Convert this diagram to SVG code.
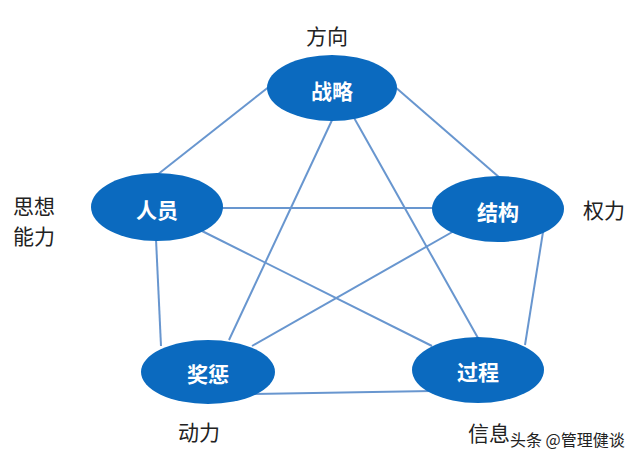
<svg xmlns="http://www.w3.org/2000/svg" width="640" height="459" viewBox="0 0 640 459">
<style>
.edge{stroke:#6896cf;stroke-width:2;fill:none}
.node ellipse{fill:#0b6abf}
.node text{fill:#fff;font-family:"Noto Sans CJK SC","Noto Sans",sans-serif;font-size:21px;font-weight:bold;text-anchor:middle;dominant-baseline:central}
.lbl{fill:#222;font-family:"Noto Sans CJK SC","Noto Sans",sans-serif;font-size:21px;text-anchor:middle;dominant-baseline:central}
.wm{fill:#222;font-family:"Noto Sans CJK SC","Noto Sans",sans-serif;font-size:16px;text-anchor:start;dominant-baseline:central;stroke:#fff;stroke-width:2.5;paint-order:stroke}
</style>
<rect width="640" height="459" fill="#fff"/>
<g id="connectors">
<line class="edge" x1="157" y1="175" x2="270" y2="86"/>
<line class="edge" x1="394" y1="86" x2="500" y2="178"/>
<line class="edge" x1="333" y1="118" x2="229" y2="340"/>
<line class="edge" x1="353" y1="116" x2="478" y2="338"/>
<line class="edge" x1="222" y1="208" x2="434" y2="208"/>
<line class="edge" x1="200" y1="230" x2="432" y2="346"/>
<line class="edge" x1="454" y1="231" x2="252" y2="346"/>
<line class="edge" x1="156" y1="239" x2="161" y2="346"/>
<line class="edge" x1="543" y1="232" x2="525" y2="345"/>
<line class="edge" x1="250" y1="394" x2="432" y2="391"/>
</g>
<g id="node-zhanlue" class="node"><ellipse cx="332" cy="88" rx="65" ry="33"/><text x="332" y="90">战略</text></g>
<g id="node-renyuan" class="node"><ellipse cx="157" cy="207" rx="66" ry="34"/><text x="157" y="209">人员</text></g>
<g id="node-jiegou" class="node"><ellipse cx="498" cy="209" rx="66" ry="33"/><text x="498" y="211">结构</text></g>
<g id="node-jiangcheng" class="node"><ellipse cx="208" cy="372" rx="67" ry="32"/><text x="208" y="373">奖惩</text></g>
<g id="node-guocheng" class="node"><ellipse cx="478" cy="370" rx="66" ry="33"/><text x="478" y="371">过程</text></g>
<g id="labels">
<text class="lbl" x="327" y="35">方向</text>
<text class="lbl" x="34" y="205">思想</text>
<text class="lbl" x="34" y="235">能力</text>
<text class="lbl" x="604" y="209">权力</text>
<text class="lbl" x="199" y="431">动力</text>
<text class="lbl" x="489" y="432">信息</text>
<text class="wm" x="510" y="439">头条 @管理健谈</text>
</g>
</svg>
